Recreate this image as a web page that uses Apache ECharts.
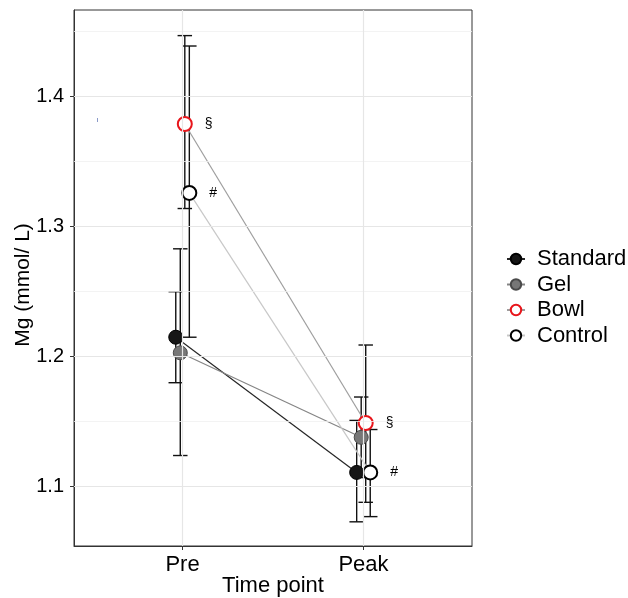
<!DOCTYPE html>
<html>
<head>
<meta charset="utf-8">
<script src="https://cdn.jsdelivr.net/npm/echarts@6/dist/echarts.min.js"></script>
<style>
  html, body { margin: 0; padding: 0; background: #fff; }
  #main { width: 628px; height: 598px; }
</style>
</head>
<body>
<div id="main"></div>
<script>
// values
var timePoints = ['Pre', 'Peak'];
var groups = ['Standard', 'Gel', 'Bowl', 'Control'];
var preMean = [1.215, 1.203, 1.379, 1.326];
var preLow = [1.180, 1.124, 1.314, 1.215];
var preHigh = [1.250, 1.283, 1.447, 1.439];
var peakMean = [1.111, 1.138, 1.149, 1.111];
var peakLow = [1.073, 1.107, 1.088, 1.077];
var peakHigh = [1.151, 1.169, 1.209, 1.144];
var marks = ['', '', '§', '#'];
var yMajor = [1.1, 1.2, 1.3, 1.4];
var yMinor = [1.05, 1.15, 1.25, 1.35, 1.45];

// styling
var fills = ['#161616', '#777777', '#ffffff', '#ffffff'];
var borders = ['#000000', '#4a4a4a', '#e8151b', '#000000'];
var lineColors = ['#262626', '#858585', '#9e9e9e', '#c8c8c8'];
var dodge = 0.1;
var capHalf = 0.04;
var font = 'Liberation Sans, Arial, sans-serif';

function offset(i) {
    return (i - (groups.length - 1) / 2) * dodge / groups.length;
}

var barData = [];
groups.forEach(function (g, i) {
    barData.push([1 + offset(i), preLow[i], preHigh[i]]);
    barData.push([2 + offset(i), peakLow[i], peakHigh[i]]);
});

var gridLines = [];
yMinor.forEach(function (v) {
    gridLines.push({ yAxis: v, lineStyle: { color: '#f0f0f0', width: 0.8, type: 'solid' } });
});
yMajor.forEach(function (v) {
    gridLines.push({ yAxis: v, lineStyle: { color: '#e6e6e6', width: 1.2, type: 'solid' } });
});
[1, 2].forEach(function (v) {
    gridLines.push({ xAxis: v, lineStyle: { color: '#e6e6e6', width: 1.2, type: 'solid' } });
});

var series = [
    {
        type: 'line',
        data: [],
        z: 0,
        silent: true,
        markLine: {
            silent: true,
            symbol: 'none',
            label: { show: false },
            animation: false,
            data: gridLines
        }
    },
    {
        type: 'custom',
        z: 1,
        silent: true,
        data: barData,
        renderItem: function (params, api) {
            var x = api.value(0);
            var lo = api.coord([x, api.value(1)]);
            var hi = api.coord([x, api.value(2)]);
            var l = api.coord([x - capHalf, api.value(1)])[0];
            var r = api.coord([x + capHalf, api.value(1)])[0];
            var st = { stroke: '#111111', lineWidth: 1.4 };
            return {
                type: 'group',
                children: [
                    { type: 'line', shape: { x1: lo[0], y1: lo[1], x2: hi[0], y2: hi[1] }, style: st },
                    { type: 'line', shape: { x1: l, y1: hi[1], x2: r, y2: hi[1] }, style: st },
                    { type: 'line', shape: { x1: l, y1: lo[1], x2: r, y2: lo[1] }, style: st }
                ]
            };
        }
    }
];

groups.forEach(function (g, i) {
    series.push({
        name: g,
        type: 'line',
        z: 2,
        symbol: 'circle',
        symbolSize: 14,
        showSymbol: true,
        data: [[1 + offset(i), preMean[i]], [2 + offset(i), peakMean[i]]],
        lineStyle: { color: lineColors[i], width: 1.2 },
        itemStyle: {
            color: fills[i],
            borderColor: borders[i],
            borderWidth: i >= 2 ? 2 : 1
        },
        label: {
            show: marks[i] !== '',
            position: 'right',
            distance: 12,
            formatter: function () { return marks[i]; },
            color: '#000',
            fontSize: 14,
            fontFamily: font
        },
        emphasis: { disabled: true }
    });
});

var myChart = echarts.init(document.getElementById('main'));
var option = {
    animation: false,
    backgroundColor: '#ffffff',
    grid: {
        left: 74,
        right: 156,
        top: 10,
        bottom: 52,
        show: true,
        borderColor: '#333333',
        borderWidth: 1,
        backgroundColor: 'transparent',
        outerBoundsMode: 'none'
    },
    legend: {
        orient: 'vertical',
        left: 501,
        top: 243,
        data: groups,
        itemWidth: 18,
        itemHeight: 13,
        itemGap: 3.5,
        textStyle: {
            fontFamily: font,
            fontSize: 22,
            color: '#000',
            lineHeight: 22,
            padding: [0, 0, 0, 7]
        }
    },
    xAxis: {
        type: 'value',
        min: 0.4,
        max: 2.6,
        name: 'Time point',
        nameLocation: 'middle',
        nameGap: 29,
        nameMoveOverlap: false,
        nameTextStyle: { fontFamily: font, fontSize: 22, color: '#000' },
        axisLine: { show: true, onZero: false, lineStyle: { color: '#333333', width: 1 } },
        axisTick: { show: true, length: 4, customValues: [1, 2], lineStyle: { color: '#333333' } },
        axisLabel: {
            customValues: [1, 2],
            formatter: function (v) { return timePoints[Math.round(v) - 1]; },
            fontFamily: font,
            fontSize: 22,
            color: '#000',
            margin: 8
        },
        splitLine: { show: false }
    },
    yAxis: {
        type: 'value',
        min: 1.0544,
        max: 1.4667,
        name: 'Mg (mmol/ L)',
        nameLocation: 'middle',
        nameGap: 40,
        nameMoveOverlap: false,
        nameTextStyle: { fontFamily: font, fontSize: 21, color: '#000', padding: [0, 14, 0, 0] },
        axisLine: { show: true, onZero: false, lineStyle: { color: '#333333', width: 1 } },
        axisTick: { show: true, length: 4, customValues: yMajor, lineStyle: { color: '#333333' } },
        axisLabel: {
            customValues: yMajor,
            formatter: function (v) { return v.toFixed(1); },
            fontFamily: font,
            fontSize: 20,
            color: '#000',
            margin: 10
        },
        splitLine: { show: false }
    },
    graphic: [
        { type: 'rect', left: 97, top: 118, shape: { width: 1, height: 4 }, style: { fill: '#8a9ac8' } }
    ],
    series: series
};
myChart.setOption(option);
</script>
</body>
</html>
